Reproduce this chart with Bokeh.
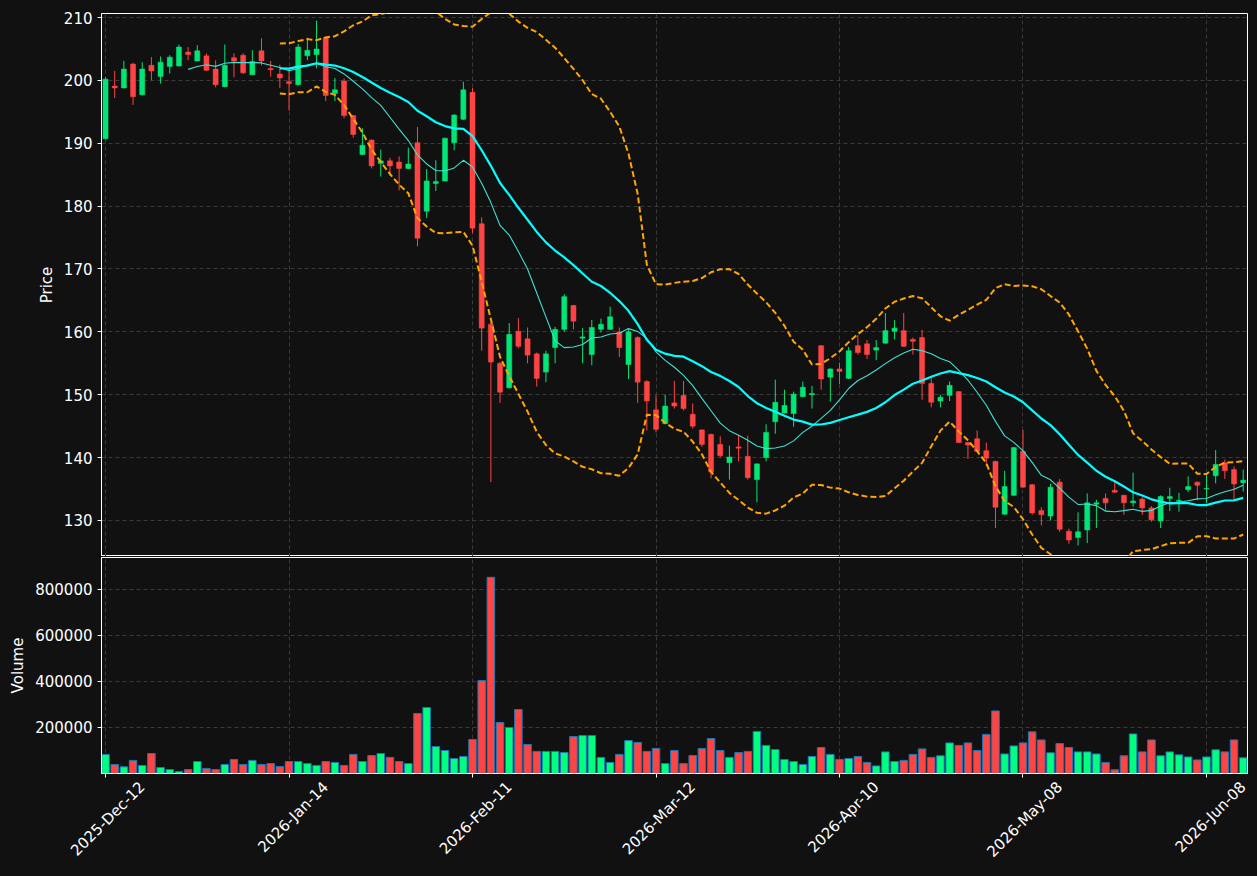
import math
import numpy as np
import pandas as pd
from bokeh.plotting import figure
from bokeh.layouts import column
from bokeh.models import Range1d, FixedTicker, ColumnDataSource, BasicTickFormatter
from bokeh.embed import file_html
from bokeh.resources import INLINE

# ---------------- data ----------------
opens = [190.7, 199.1, 198.8, 202.6, 197.7, 202.4, 200.6, 202.2, 202.3, 204.5,
         203.1, 203.9, 201.8, 199.0, 203.6, 204.0, 200.9, 204.7, 201.9, 201.0,
         199.8, 199.3, 203.9, 204.1, 206.8, 197.9, 199.9, 194.4, 188.2, 190.5,
         186.8, 187.2, 187.0, 186.0, 190.1, 179.2, 183.6, 184.0, 190.1, 193.8,
         198.1, 177.2, 161.2, 155.0, 151.1, 160.1, 158.9, 156.5, 153.6, 157.5,
         160.4, 164.2, 159.0, 156.4, 160.4, 160.4, 160.0, 154.8, 159.1, 152.1,
         147.6, 145.4, 148.7, 149.9, 146.9, 144.4, 143.7, 142.1, 139.2, 141.7,
         140.2, 136.5, 140.0, 145.7, 147.1, 147.0, 149.7, 150.0, 157.8, 152.8,
         154.1, 152.6, 157.8, 158.1, 157.1, 158.2, 160.1, 160.2, 158.8, 159.1,
         151.8, 149.0, 149.9, 150.5, 142.4, 143.0, 141.1, 139.4, 131.0, 134.0,
         141.0, 135.7, 131.6, 130.7, 136.1, 128.3, 127.3, 128.5, 132.6, 133.5,
         134.8, 134.0, 132.8, 133.4, 132.0, 129.9, 133.5, 133.0, 134.9, 136.1,
         135.0, 137.1, 139.2, 138.1, 136.0]
highs = [200.5, 201.5, 203.1, 202.8, 202.9, 203.7, 203.8, 204.0, 205.7, 205.3,
         205.6, 204.3, 203.2, 205.7, 204.3, 204.3, 204.8, 206.7, 203.1, 202.5,
         201.7, 205.8, 206.8, 209.5, 207.0, 200.4, 200.3, 194.5, 192.4, 190.6,
         189.0, 187.7, 187.9, 189.3, 192.6, 185.9, 187.3, 190.9, 194.6, 199.8,
         198.8, 178.2, 161.5, 155.2, 161.4, 162.2, 160.7, 156.7, 157.0, 160.8,
         166.0, 164.3, 160.6, 161.9, 162.1, 164.0, 160.7, 160.6, 159.3, 152.3,
         149.9, 150.0, 152.2, 152.2, 148.6, 144.5, 143.8, 143.4, 141.9, 143.6,
         143.5, 139.1, 145.3, 152.4, 150.8, 150.5, 152.1, 151.4, 157.9, 154.2,
         155.1, 157.6, 159.5, 158.7, 158.7, 163.0, 161.9, 163.0, 159.1, 160.3,
         152.8, 150.0, 152.1, 150.6, 142.5, 144.3, 142.4, 139.5, 137.9, 141.7,
         144.4, 135.8, 132.1, 135.8, 136.6, 128.7, 131.3, 134.3, 133.3, 134.3,
         136.1, 134.1, 137.6, 133.7, 132.3, 134.0, 135.2, 134.4, 137.0, 136.2,
         137.3, 141.2, 139.7, 138.6, 138.1]
lows = [190.6, 197.2, 198.7, 196.1, 197.6, 200.0, 199.5, 201.1, 202.2, 203.2,
        203.0, 201.5, 198.9, 198.9, 200.5, 201.0, 200.8, 202.4, 200.6, 198.8,
        195.2, 199.2, 203.2, 201.9, 196.7, 196.7, 194.0, 190.9, 188.1, 186.0,
        184.7, 184.8, 182.5, 185.9, 173.6, 178.1, 182.4, 183.9, 188.9, 193.7,
        175.7, 157.0, 136.1, 148.7, 151.0, 157.4, 155.0, 151.3, 152.0, 155.0,
        160.0, 160.4, 155.0, 154.7, 159.9, 160.3, 156.0, 152.5, 148.7, 144.3,
        144.0, 145.3, 147.8, 147.5, 144.6, 141.7, 136.7, 140.0, 136.5, 139.4,
        136.5, 132.9, 139.4, 143.8, 147.0, 144.9, 149.6, 147.8, 150.8, 148.9,
        151.7, 152.5, 156.4, 155.7, 155.5, 158.1, 158.8, 157.6, 156.4, 149.2,
        148.0, 148.0, 149.0, 142.3, 139.8, 140.9, 138.6, 128.8, 130.9, 133.9,
        135.2, 130.9, 129.2, 130.0, 128.2, 126.3, 126.0, 126.4, 128.8, 131.6,
        134.4, 130.9, 132.2, 130.9, 129.8, 128.8, 131.5, 131.4, 134.5, 133.2,
        132.8, 135.9, 136.6, 133.4, 134.6]
closes = [200.2, 198.8, 201.8, 197.4, 201.8, 201.5, 202.9, 203.7, 205.3, 204.1,
          204.7, 201.6, 199.3, 202.4, 203.1, 201.2, 203.0, 203.1, 201.7, 200.4,
          199.5, 205.3, 204.8, 205.0, 197.6, 198.5, 194.4, 191.4, 189.7, 186.4,
          187.2, 186.4, 186.0, 186.7, 174.9, 184.0, 183.9, 190.8, 194.5, 198.5,
          176.5, 160.6, 155.2, 150.4, 159.6, 157.7, 156.3, 152.6, 156.5, 160.4,
          165.6, 161.7, 159.2, 160.7, 161.2, 162.4, 157.5, 160.0, 152.0, 149.0,
          144.5, 148.2, 148.2, 147.8, 145.0, 142.1, 137.7, 140.3, 140.1, 141.5,
          136.8, 139.0, 144.0, 148.8, 148.3, 150.1, 151.2, 150.2, 152.5, 154.1,
          153.7, 157.0, 156.7, 156.4, 157.5, 160.2, 160.6, 157.7, 158.5, 151.8,
          148.8, 149.6, 151.5, 142.4, 142.0, 141.0, 139.9, 132.1, 135.4, 141.6,
          135.3, 131.2, 130.9, 135.3, 128.6, 126.9, 128.2, 132.8, 132.8, 132.8,
          134.5, 132.8, 133.1, 132.0, 130.1, 133.8, 133.8, 133.2, 135.4, 135.6,
          135.1, 138.9, 137.9, 135.8, 136.4]
volumes = [83000, 39000, 29000, 57000, 35000, 87000, 26000, 17000, 9000, 17000,
           52000, 22000, 17000, 39000, 61000, 39000, 57000, 39000, 43000, 30000,
           52000, 52000, 43000, 35000, 52000, 48000, 35000, 83000, 52000, 78000,
           87000, 70000, 52000, 43000, 261000, 287000, 117000, 100000, 65000, 74000,
           148000, 404000, 853000, 222000, 200000, 278000, 126000, 96000, 96000, 96000,
           91000, 161000, 165000, 165000, 70000, 48000, 83000, 143000, 135000, 96000,
           109000, 43000, 100000, 43000, 78000, 109000, 152000, 100000, 70000, 91000,
           96000, 183000, 122000, 104000, 61000, 52000, 39000, 74000, 113000, 83000,
           61000, 65000, 74000, 48000, 33000, 94000, 52000, 57000, 83000, 107000,
           70000, 77000, 133000, 122000, 133000, 100000, 170000, 272000, 85000, 120000,
           133000, 181000, 146000, 90000, 130000, 113000, 94000, 94000, 85000, 48000,
           16000, 77000, 172000, 94000, 146000, 77000, 94000, 81000, 72000, 59000,
           72000, 103000, 94000, 146000, 68000]
tick_idx = [0, 20, 40, 60, 80, 100, 120]
tick_labels = ["2025-Dec-12", "2026-Jan-14", "2026-Feb-11", "2026-Mar-12",
               "2026-Apr-10", "2026-May-08", "2026-Jun-08"]
price_ticks = [130, 140, 150, 160, 170, 180, 190, 200, 210]
volume_ticks = [200000, 400000, 600000, 800000]

# ---------------- derived ----------------
n = len(closes)
xs = list(range(n))
UP = "#00e676"
DOWN = "#ff4444"
VUP = "#00ff7f"
colors = [UP if c >= o else DOWN for o, c in zip(opens, closes)]
vcolors = [VUP if c >= o else DOWN for o, c in zip(opens, closes)]
s = pd.Series(closes, dtype=float)
sma10 = s.rolling(10).mean().tolist()
sma20 = s.rolling(20).mean()
std20 = s.rolling(20).std()
upper = (sma20 + 2 * std20).tolist()
lower = (sma20 - 2 * std20).tolist()
sma20 = sma20.tolist()

src = ColumnDataSource(dict(
    x=xs, open=opens, high=highs, low=lows, close=closes,
    top=[max(o, c) for o, c in zip(opens, closes)],
    bottom=[min(o, c) for o, c in zip(opens, closes)],
    color=colors, vol=volumes, vcolor=vcolors))

BG = "#111111"
FONT = "DejaVu Sans"
GRID = "#3a3a3a"

xr = Range1d(-0.44, 124.47)


def style_axis(ax):
    ax.axis_line_color = "white"
    ax.major_tick_line_color = "white"
    ax.minor_tick_line_color = None
    ax.major_tick_out = 4
    ax.major_tick_in = 0
    ax.major_label_text_color = "white"
    ax.major_label_text_font = FONT
    ax.major_label_text_font_size = "15px"
    ax.axis_label_text_color = "white"
    ax.axis_label_text_font = FONT
    ax.axis_label_text_font_size = "15px"
    ax.axis_label_text_font_style = "normal"


def style(p):
    p.background_fill_color = BG
    p.border_fill_color = BG
    p.outline_line_color = "white"
    p.outline_line_width = 1
    for ax in p.yaxis + p.xaxis:
        style_axis(ax)
    for g in p.xgrid + p.ygrid:
        g.grid_line_color = GRID
        g.grid_line_dash = "4 3"
        g.grid_line_width = 1


p1 = figure(frame_width=1146, frame_height=543, x_range=xr,
            y_range=Range1d(124.27, 210.64), output_backend="svg",
            toolbar_location=None, min_border_left=101, min_border_right=10,
            min_border_top=13, min_border_bottom=0)
style(p1)
p1.xaxis.visible = False
p1.xgrid.ticker = FixedTicker(ticks=tick_idx)
p1.yaxis.ticker = FixedTicker(ticks=price_ticks)
p1.yaxis.axis_label = "Price"

p1.segment(x0="x", y0="low", x1="x", y1="high", color="color", line_width=1, source=src)
p1.vbar(x="x", width=0.55, top="top", bottom="bottom", fill_color="color",
        line_color="color", line_width=0.5, source=src)
p1.line(xs, upper, color="#ffa500", line_width=2, line_dash="6 3")
p1.line(xs, lower, color="#ffa500", line_width=2, line_dash="6 3")
p1.line(xs, sma10, color="#40e0d0", line_width=1.1)
p1.line(xs, sma20, color="#00ffff", line_width=2.2)

p2 = figure(frame_width=1146, frame_height=216, x_range=xr,
            y_range=Range1d(0, 939000), output_backend="svg",
            toolbar_location=None, min_border_left=101, min_border_right=10,
            min_border_top=1, min_border_bottom=100)
style(p2)
# date tick marks as minor ticks; the rotated labels sit on invisible major ticks,
# offset so each label is centred under its date tick
shift = 4
lab_ticks = [t + shift for t in tick_idx]
p2.xaxis.ticker = FixedTicker(ticks=lab_ticks, minor_ticks=tick_idx)
p2.xaxis.major_label_overrides = {t: l for t, l in zip(lab_ticks, tick_labels)}
p2.xaxis.major_tick_line_color = None
p2.xaxis.major_tick_out = 4
p2.xaxis.minor_tick_line_color = "white"
p2.xaxis.minor_tick_out = 4
p2.xaxis.minor_tick_in = 0
p2.xaxis.major_label_standoff = 7
p2.xaxis.major_label_orientation = math.pi / 4
p2.xgrid.ticker = FixedTicker(ticks=tick_idx)

p2.yaxis.ticker = FixedTicker(ticks=volume_ticks)
p2.yaxis.formatter = BasicTickFormatter(use_scientific=False)
p2.yaxis.axis_label = "Volume"
p2.vbar(x="x", width=0.82, top="vol", bottom=0, fill_color="vcolor",
        line_color="#1f77b4", line_width=1, source=src)

layout = column(p1, p2, spacing=0, styles={"background-color": BG})
html = file_html(layout, INLINE)
html = html.replace("<body>", '<body style="margin:0;background:#111111;">')
open("out.html", "w").write(html)
